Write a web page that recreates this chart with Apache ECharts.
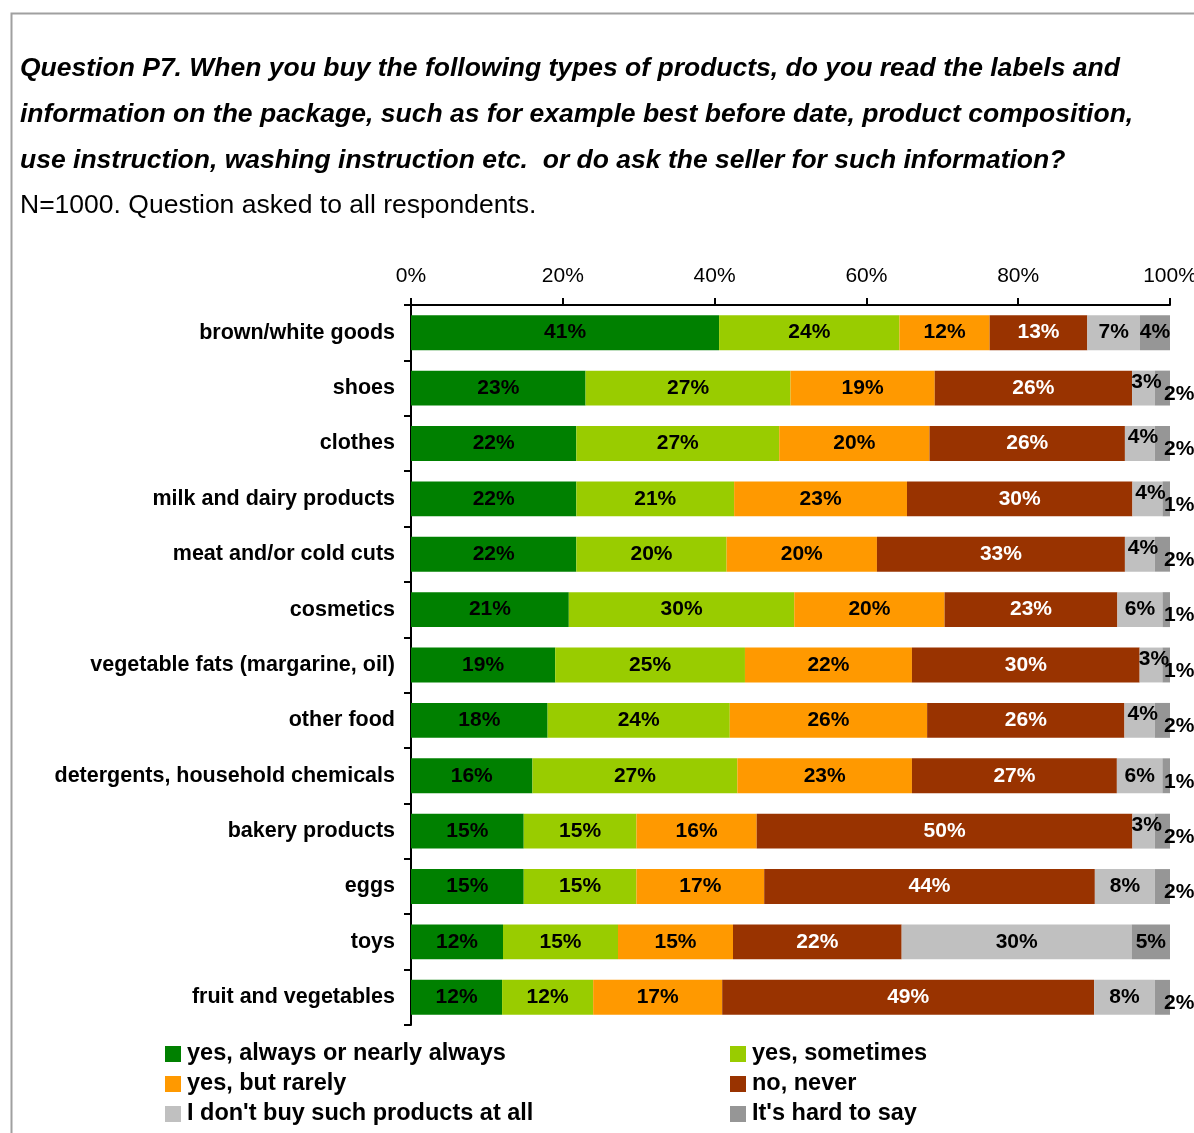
<!DOCTYPE html>
<html>
<head>
<meta charset="utf-8">
<script src="https://cdn.jsdelivr.net/npm/echarts@6/dist/echarts.min.js"></script>
<style>
  html, body { margin: 0; padding: 0; background: #fff; }
  #chart { width: 1194px; height: 1133px; }
</style>
</head>
<body>
<div id="chart"></div>
<script>
// Product types, top to bottom
const categories = [
  'brown/white goods', 'shoes', 'clothes', 'milk and dairy products',
  'meat and/or cold cuts', 'cosmetics', 'vegetable fats (margarine, oil)',
  'other food', 'detergents, household chemicals', 'bakery products',
  'eggs', 'toys', 'fruit and vegetables'
];

// Answer shares, % of respondents
const alwaysVals    = [41, 23, 22, 22, 22, 21, 19, 18, 16, 15, 15, 12, 12];
const sometimesVals = [24, 27, 27, 21, 20, 30, 25, 24, 27, 15, 15, 15, 12];
const rarelyVals    = [12, 19, 20, 23, 20, 20, 22, 26, 23, 16, 17, 15, 17];
const neverVals     = [13, 26, 26, 30, 33, 23, 30, 26, 27, 50, 44, 22, 49];
const dontBuyVals   = [ 7,  3,  4,  4,  4,  6,  3,  4,  6,  3,  8, 30,  8];
const hardVals      = [ 4,  2,  2,  1,  2,  1,  1,  2,  1,  2,  2,  5,  2];

const seriesNames = [
  'yes, always or nearly always', 'yes, sometimes', 'yes, but rarely',
  'no, never', "I don't buy such products at all", "It's hard to say"
];
const seriesColors = ['#008000', '#99CC00', '#FF9900', '#993300', '#C0C0C0', '#969696'];
const labelColors  = ['#000', '#000', '#000', '#fff', '#000', '#000'];

// Axis ticks (percent of row total)
const xTicks = [0, 20, 40, 60, 80, 100];

const allVals = [alwaysVals, sometimesVals, rarelyVals, neverVals, dontBuyVals, hardVals];
const rowTotals = categories.map((_, i) => allVals.reduce((s, arr) => s + arr[i], 0));

const FONT = '"Liberation Sans", Arial, sans-serif';

// 100% stacked: each segment is drawn as its share of the row total,
// while its label shows the answer percentage itself.
function buildData(vals, si) {
  return vals.map((v, i) => {
    const item = { value: v / rowTotals[i] * 100, raw: v };
    if (si === 5 && v <= 2) {
      item.label = { position: 'right', distance: -6, offset: [0, 6] };
    } else if (si === 4 && v <= 4) {
      item.label = { offset: [3, -6] };
    }
    return item;
  });
}

const series = allVals.map((vals, si) => ({
  name: seriesNames[si],
  type: 'bar',
  stack: 'total',
  barCategoryGap: '37%',
  clip: false,
  itemStyle: { color: seriesColors[si] },
  label: {
    show: true,
    position: 'inside',
    color: labelColors[si],
    fontFamily: FONT,
    fontWeight: 'bold',
    fontSize: 21,
    formatter: p => p.data.raw + '%'
  },
  emphasis: { disabled: true },
  data: buildData(vals, si)
}));

const legendText = {
  fontFamily: FONT, fontSize: 23.5, fontWeight: 'bold', color: '#000', padding: [0, 0, 0, 1]
};

const chart = echarts.init(document.getElementById('chart'), null, { renderer: 'canvas' });
chart.setOption({
  animation: false,
  backgroundColor: '#fff',
  textStyle: { fontFamily: FONT },
  graphic: [{
    type: 'rect',
    left: 9, top: 11,
    shape: { width: 1300, height: 1300 },
    style: { fill: 'none', stroke: '#A0A0A0', lineWidth: 2 },
    silent: true
  }],
  title: [{
    text: 'Question P7. When you buy the following types of products, do you read the labels and\ninformation on the package, such as for example best before date, product composition,\nuse instruction, washing instruction etc.  or do ask the seller for such information?',
    left: 20, top: 46,
    padding: 0,
    textStyle: {
      fontFamily: FONT, fontSize: 26.5, fontWeight: 'bold', fontStyle: 'italic',
      color: '#000', lineHeight: 46
    }
  }, {
    text: 'N=1000. Question asked to all respondents.',
    left: 20, top: 192,
    padding: 0,
    textStyle: { fontFamily: FONT, fontSize: 26.5, fontWeight: 'normal', color: '#000' }
  }],
  legend: [{
    data: [seriesNames[0], seriesNames[2], seriesNames[4]],
    orient: 'vertical',
    left: 165, top: 1042,
    padding: 0,
    itemWidth: 16, itemHeight: 16, itemGap: 6,
    icon: 'rect',
    selectedMode: false,
    textStyle: legendText
  }, {
    data: [seriesNames[1], seriesNames[3], seriesNames[5]],
    orient: 'vertical',
    left: 730, top: 1042,
    padding: 0,
    itemWidth: 16, itemHeight: 16, itemGap: 6,
    icon: 'rect',
    selectedMode: false,
    textStyle: legendText
  }],
  grid: {
    left: 411, right: 24, top: 305, bottom: 108,
    containLabel: false, outerBoundsMode: 'none'
  },
  xAxis: {
    type: 'value',
    position: 'top',
    min: xTicks[0],
    max: xTicks[xTicks.length - 1],
    interval: xTicks[1] - xTicks[0],
    axisLine: { show: true, lineStyle: { color: '#000', width: 2 } },
    axisTick: { show: true, length: 7, lineStyle: { color: '#000', width: 2 } },
    splitLine: { show: false },
    axisLabel: {
      color: '#000', fontFamily: FONT, fontSize: 21, margin: 18,
      formatter: '{value}%'
    }
  },
  yAxis: {
    type: 'category',
    inverse: true,
    data: categories,
    axisLine: { show: true, lineStyle: { color: '#000', width: 2 } },
    axisTick: { show: true, length: 7, lineStyle: { color: '#000', width: 2 } },
    axisLabel: {
      color: '#000', fontFamily: FONT, fontSize: 21.5, fontWeight: 'bold', margin: 16
    }
  },
  series: series
});
</script>
</body>
</html>
